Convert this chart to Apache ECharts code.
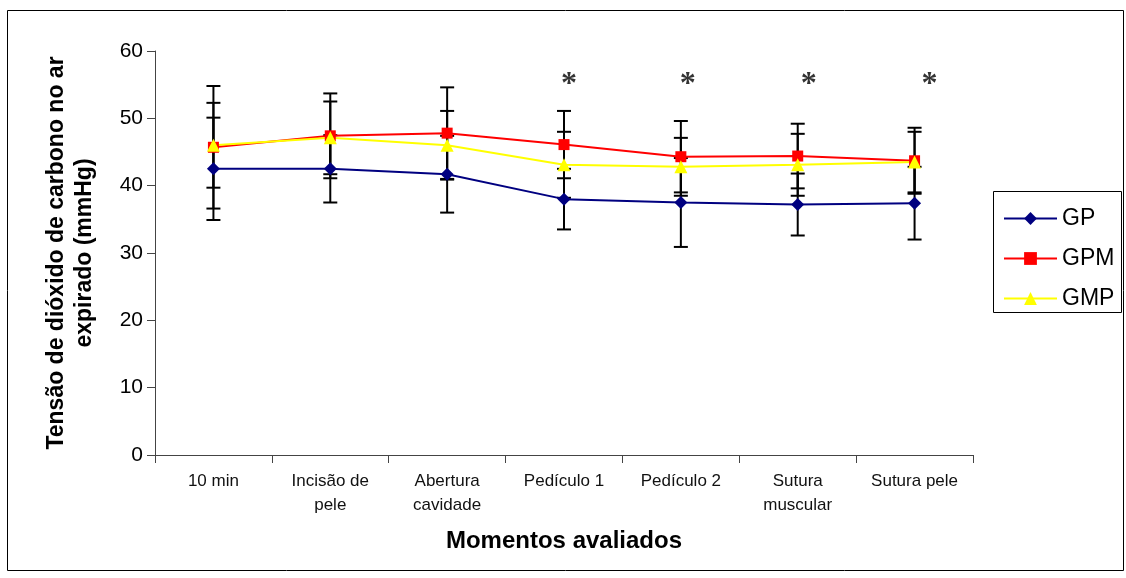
<!DOCTYPE html>
<html>
<head>
<meta charset="utf-8">
<script src="https://cdn.jsdelivr.net/npm/echarts@6/dist/echarts.min.js"></script>
<style>
  html, body { margin: 0; padding: 0; background: #fff; }
  #chart { width: 1126px; height: 578px; }
</style>
</head>
<body>
<div id="chart"></div>
<script>
// Moments at which end-tidal CO2 was measured
const categories = ['10 min', 'Incisão de\npele', 'Abertura\ncavidade', 'Pedículo 1', 'Pedículo 2', 'Sutura\nmuscular', 'Sutura pele'];

// Group means (mmHg)
const gpMean  = [42.5, 42.5, 41.7, 38.0, 37.5, 37.2, 37.4];
const gpmMean = [45.7, 47.4, 47.8, 46.1, 44.3, 44.4, 43.7];
const gmpMean = [46.0, 47.1, 46.0, 43.1, 42.8, 43.1, 43.5];

// Standard deviations (mmHg)
const gpSd  = [7.6, 5.0, 5.7, 4.5, 6.6, 4.6, 5.4];
const gpmSd = [9.1, 6.3, 6.8, 5.0, 5.3, 4.8, 4.9];
const gmpSd = [6.3, 5.4, 5.1, 4.9, 4.3, 4.6, 4.5];

// Moments with a significant difference, and the height of the marker
const signifIdx = [3, 4, 5, 6];
const signifLevel = 56;

const yTicks = [0, 10, 20, 30, 40, 50, 60];

const FONT = 'Liberation Sans, Arial, sans-serif';
const STAR_SHIFT = [5, 7, 11, 15];

function errData(mean, sd) {
  return mean.map((m, i) => [i, m - sd[i], m + sd[i]]);
}

function errSeries(mean, sd) {
  return {
    type: 'custom',
    z: 1,
    silent: true,
    data: errData(mean, sd),
    renderItem: function (params, api) {
      const x = api.value(0);
      const lo = api.coord([x, api.value(1)]);
      const hi = api.coord([x, api.value(2)]);
      const hw = 7;
      const style = { stroke: '#000', lineWidth: 2 };
      return {
        type: 'group',
        children: [
          { type: 'line', shape: { x1: lo[0], y1: lo[1], x2: hi[0], y2: hi[1] }, style: style },
          { type: 'line', shape: { x1: lo[0] - hw, y1: lo[1], x2: lo[0] + hw, y2: lo[1] }, style: style },
          { type: 'line', shape: { x1: hi[0] - hw, y1: hi[1], x2: hi[0] + hw, y2: hi[1] }, style: style }
        ]
      };
    }
  };
}

function lineSeries(name, data, color, symbol, size) {
  return {
    name: name,
    type: 'line',
    z: 3,
    data: data,
    symbol: symbol,
    symbolSize: size,
    showAllSymbol: true,
    lineStyle: { color: color, width: 2 },
    itemStyle: { color: color },
    emphasis: { disabled: true },
    animation: false
  };
}

const chart = echarts.init(document.getElementById('chart'), null, { renderer: 'canvas' });

chart.setOption({
  animation: false,
  backgroundColor: '#fff',
  textStyle: { fontFamily: FONT },
  grid: { left: 155, right: 153, top: 51, bottom: 123, containLabel: false },
  legend: {
    orient: 'vertical',
    left: 998,
    top: 202,
    data: ['GP', 'GPM', 'GMP'],
    itemWidth: 53,
    itemHeight: 16,
    itemGap: 17,
    textStyle: { fontSize: 23, color: '#000', fontFamily: FONT },
    selectedMode: false
  },
  xAxis: {
    type: 'category',
    data: categories,
    boundaryGap: true,
    axisLine: { lineStyle: { color: '#444', width: 1 } },
    axisTick: { show: true, interval: 0, length: 8, lineStyle: { color: '#444' } },
    axisLabel: {
      interval: 0,
      margin: 14,
      fontSize: 17,
      lineHeight: 24,
      color: '#111',
      fontFamily: FONT
    },
    name: 'Momentos avaliados',
    nameLocation: 'middle',
    nameGap: 74,
    nameTextStyle: { fontSize: 24, fontWeight: 'bold', color: '#000', fontFamily: FONT }
  },
  yAxis: {
    type: 'value',
    min: 0,
    max: 60,
    interval: 10,
    splitLine: { show: false },
    axisLine: { show: true, lineStyle: { color: '#444', width: 1 } },
    axisTick: { show: true, length: 8, inside: false, lineStyle: { color: '#444' } },
    axisLabel: {
      margin: 12,
      fontSize: 21,
      color: '#000',
      fontFamily: FONT,
      formatter: function (v) { return yTicks.indexOf(v) >= 0 ? String(v) : ''; }
    },
    name: 'Tensão de dióxido de carbono no ar\nexpirado (mmHg)',
    nameLocation: 'middle',
    nameRotate: 90,
    nameGap: 56,
    nameTextStyle: { fontSize: 23, fontWeight: 'bold', color: '#000', lineHeight: 28, fontFamily: FONT }
  },
  graphic: [
    {
      type: 'rect',
      shape: { x: 7.5, y: 10.5, width: 1116, height: 560 },
      style: { fill: null, stroke: '#000', lineWidth: 1 },
      silent: true,
      z: -1
    },
    {
      type: 'rect',
      shape: { x: 993.5, y: 191.5, width: 128, height: 121 },
      style: { fill: '#fff', stroke: '#000', lineWidth: 1 },
      silent: true,
      z: -1
    }
  ],
  series: [
    errSeries(gpMean, gpSd),
    errSeries(gpmMean, gpmSd),
    errSeries(gmpMean, gmpSd),
    lineSeries('GP', gpMean, '#000080', 'diamond', 13),
    lineSeries('GPM', gpmMean, '#ff0000', 'rect', 11),
    lineSeries('GMP', gmpMean, '#ffff00', 'triangle', 13),
    {
      type: 'scatter',
      z: 4,
      silent: true,
      symbolSize: 2,
      itemStyle: { color: 'rgba(0,0,0,0)' },
      data: signifIdx.map((i, k) => ({
        value: [i, signifLevel],
        label: { offset: [STAR_SHIFT[k], 7] }
      })),
      label: {
        show: true,
        position: 'inside',
        formatter: '*',
        fontSize: 32,
        fontWeight: 'bold',
        color: '#000',
        fontFamily: 'Liberation Serif, Times New Roman, serif'
      }
    }
  ]
});
</script>
</body>
</html>
